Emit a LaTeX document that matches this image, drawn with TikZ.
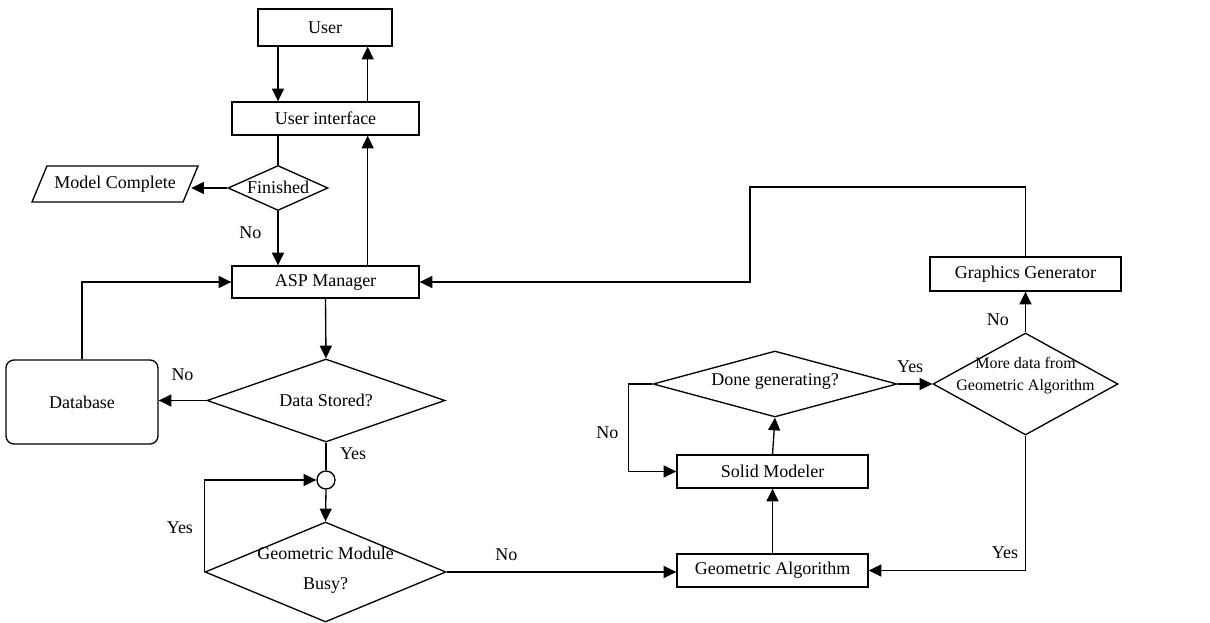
\documentclass[tikz,border=0pt]{standalone}
\usepackage{fontspec}
\setmainfont{Liberation Serif}
\usetikzlibrary{arrows.meta,shapes.geometric}
\newcommand{\qtext}[1]{\makebox[0pt]{\begin{tabular}{@{}c@{}}#1\end{tabular}}}
\newcommand{\qtextr}[2]{\makebox[0pt]{\raisebox{#1}[0pt][0pt]{\begin{tabular}{@{}c@{}}#2\end{tabular}}}}

\begin{document}
\begin{tikzpicture}[x=0.75pt,y=-0.75pt,line width=1pt,
		font=\fontsize{13.5pt}{22pt}\selectfont,
		box/.style={draw,rectangle,inner sep=0pt,minimum width=143.25pt,minimum height=24.75pt},
		query/.style={draw,diamond,inner sep=0pt},
		lbl/.style={inner sep=0pt},
		arr/.style={-{Triangle[length=9.5pt,width=9pt]}}]
	\useasboundingbox (0,0) rectangle (1210,623);
	\node[box,minimum width=100.5pt,minimum height=27.75pt] (user) at (325,27.5) {User};
	\node[box,minimum width=140.25pt] (ui) at (325.5,118.5) {User interface};
	\node[query,minimum width=75pt,minimum height=33.75pt] (fin) at (278,188) {\qtext{Finished}};
	\node[draw,trapezium,trapezium left angle=47.5,trapezium right angle=132.5,
		trapezium stretches body,inner sep=0pt,minimum width=124.5pt,minimum height=27pt] (mc) at (115,184) {Model Complete};
	\node[box,minimum width=140.25pt,minimum height=24pt] (asp) at (325.5,282) {ASP Manager};
	\node[draw,rounded corners=6pt,minimum width=114pt,minimum height=63pt] (db) at (82,402) {Database};
	\node[query,minimum width=178.5pt,minimum height=62.25pt] (stored) at (326,400.5) {\qtext{Data Stored?}};
	\node[draw,circle,inner sep=0pt,minimum size=13.5pt] (jn) at (326,480) {};
	\node[query,minimum width=180.75pt,minimum height=75pt] (busy) at (325.5,572) {\qtextr{-1pt}{Geometric Module\\Busy?}};
	\node[box] (ga) at (772.5,570.5) {Geometric Algorithm};
	\node[box] (sm) at (772.5,471.5) {Solid Modeler};
	\node[query,minimum width=183pt,minimum height=49.5pt] (done) at (775,384) {\qtext{\raisebox{3pt}{Done generating?}}};
	\node[query,minimum width=138.75pt,minimum height=76.5pt,font=\fontsize{12pt}{16.5pt}\selectfont] (more) at (1025.5,384) {\qtextr{3.75pt}{More data from\\Geometric Algorithm}};
	\node[box,minimum height=25.5pt] (gg) at (1025.5,274) {Graphics Generator};
	\coordinate (rx) at ([xshift=-39pt]ui.south east);
	\coordinate (turn) at (750,187);

	\draw[arr] (user.south -| fin) -- (ui.north -| fin);
	\draw[arr] (ui.north -| rx) -- (user.south -| rx);
	\draw (ui.south -| fin) -- (fin.north);
	\draw[arr] (fin.west) -- (fin.west -| mc.east);
	\draw[arr] (fin.south) -- node[lbl,pos=0.4,left=12pt]{No} (asp.north -| fin);
	\draw[arr] (asp.north -| rx) -- (ui.south -| rx);
	\draw[arr] (db.north) |- (asp.west);
	\draw[arr] (gg.north) |- (turn) |- (asp.east);
	\draw[arr] (asp.south) -- (stored.north);
	\draw[arr] (stored.west) -- node[lbl,above=14pt]{No} (stored.west -| db.east);
	\draw (stored.south) -- node[lbl,pos=0.4,right=10pt]{Yes} (jn.north);
	\draw[arr] (jn.south) -- (busy.north);
	\draw[arr] (busy.west) |- node[lbl,pos=0.24,left=8pt]{Yes} (jn.west);
	\draw[arr] (busy.east) -- node[lbl,pos=0.26,above=8pt]{No} (busy.east -| ga.west);
	\draw[arr] (ga.north) -- (sm.south);
	\draw[arr] (sm.north) -- (done.south);
	\draw[arr] (done.west) -- ++(-18pt,0) |- node[lbl,pos=0.28,left=7pt]{No} (sm.west);
	\draw[arr] (done.east) -- node[lbl,pos=0.36,above=8pt]{Yes} (more.west);
	\draw[arr] (more.north) -- node[lbl,pos=0.31,left=12pt]{No} (gg.south);
	\draw[arr] (more.south) |- node[lbl,pos=0.435,left=5pt]{Yes} (ga.east);
\end{tikzpicture}
\end{document}
